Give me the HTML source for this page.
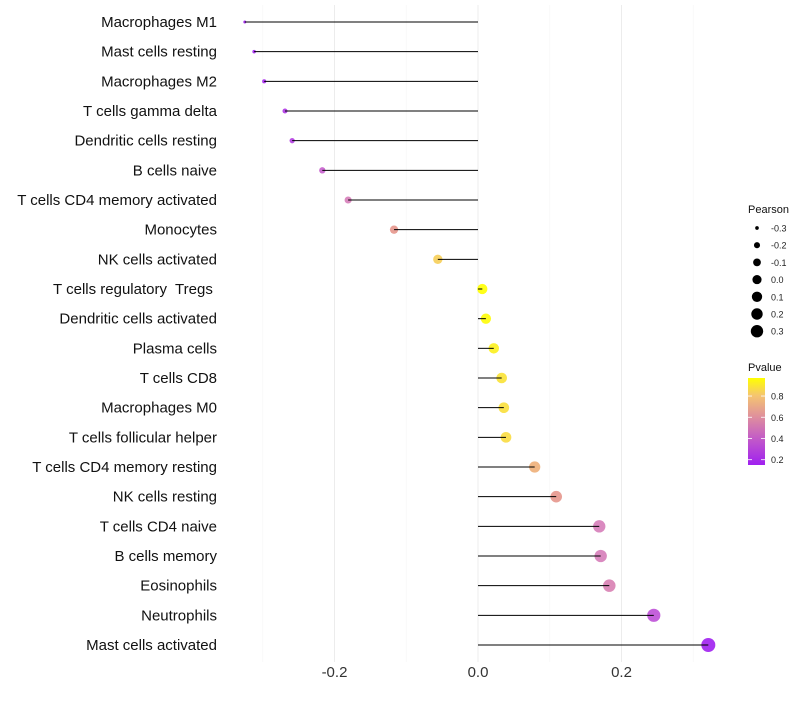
<!DOCTYPE html>
<html><head><meta charset="utf-8"><style>
body{margin:0;background:#fff;font-family:"Liberation Sans",sans-serif}
text{white-space:pre}
</style></head><body>
<svg id="c" width="800" height="700" xmlns="http://www.w3.org/2000/svg">
<defs><linearGradient id="pg" x1="0" y1="1" x2="0" y2="0">
<stop offset="0" stop-color="#A020F0"/><stop offset="0.3" stop-color="#C25AC8"/><stop offset="0.55" stop-color="#DE8E9E"/><stop offset="0.8" stop-color="#F5C570"/><stop offset="1" stop-color="#FFFF00"/></linearGradient></defs>
</svg>
<script>
const categories=["Macrophages M1","Mast cells resting","Macrophages M2","T cells gamma delta","Dendritic cells resting","B cells naive","T cells CD4 memory activated","Monocytes","NK cells activated","T cells regulatory  Tregs ","Dendritic cells activated","Plasma cells","T cells CD8","Macrophages M0","T cells follicular helper","T cells CD4 memory resting","NK cells resting","T cells CD4 naive","B cells memory","Eosinophils","Neutrophils","Mast cells activated"];
const pearson=[-0.325,-0.312,-0.298,-0.269,-0.259,-0.217,-0.181,-0.117,-0.056,0.006,0.011,0.022,0.033,0.036,0.039,0.079,0.109,0.169,0.171,0.183,0.245,0.321];
const pvalue=[0.15,0.16,0.17,0.22,0.24,0.35,0.45,0.6,0.82,0.97,0.96,0.92,0.88,0.87,0.86,0.7,0.6,0.45,0.45,0.47,0.3,0.15];
const xTicks=[-0.2,0.0,0.2];
const sizeTicks=[-0.3,-0.2,-0.1,0.0,0.1,0.2,0.3];
const pTicks=[0.8,0.6,0.4,0.2];
const svg=document.getElementById('c');const NS="http://www.w3.org/2000/svg";
function mk(t,a,p){const e=document.createElementNS(NS,t);for(const k in a)e.setAttribute(k,a[k]);(p||svg).appendChild(e);return e;}
const x=v=>478+v*717.5;
const y=i=>22+i*29.667;
const r=v=>Math.sqrt(Math.max(2.25,2.25+(v+0.325)/0.646*46.75));
const stops=[[0.15,[160,32,240]],[0.3,[190,80,215]],[0.45,[214,125,185]],[0.6,[230,150,140]],[0.8,[245,200,100]],[0.97,[255,255,0]]];
function col(p){if(p<=stops[0][0])return 'rgb('+stops[0][1]+')';for(let k=1;k<stops.length;k++){if(p<=stops[k][0]){const a=stops[k-1],b=stops[k],t=(p-a[0])/(b[0]-a[0]);return 'rgb('+a[1].map((c,j)=>Math.round(c+(b[1][j]-c)*t)).join(',')+')';}}return 'rgb(255,255,0)';}
[-0.3,-0.1,0.1,0.3].forEach(v=>{const g=mk('line',{x1:x(v),x2:x(v),y1:5,y2:662,stroke:'#f6f6f6','stroke-width':0.6});});
xTicks.forEach(v=>{const g=mk('line',{x1:x(v),x2:x(v),y1:5,y2:662,stroke:'#ececec','stroke-width':1});
const t=mk('text',{x:x(v),y:677,'text-anchor':'middle','font-size':15,fill:'#333'});t.textContent=v.toFixed(1);});
categories.forEach((c,i)=>{const yy=y(i);
const t=mk('text',{x:217,y:yy+5,'text-anchor':'end','font-size':15,fill:'#111'});t.textContent=c;
const d=mk('circle',{cx:x(pearson[i]),cy:yy,r:r(pearson[i]),fill:col(pvalue[i]),'fill-opacity':0.9});
const s=mk('line',{x1:x(0),x2:x(pearson[i]),y1:yy,y2:yy,stroke:'#000','stroke-width':1});});
const lt=mk('text',{x:748,y:213,'font-size':11,fill:'#111'});lt.textContent='Pearson';
sizeTicks.forEach((v,k)=>{const yy=228+k*17.2;const c=mk('circle',{cx:757,cy:yy,r:r(v)*0.9,fill:'#000'});
const t=mk('text',{x:771,y:yy+3.5,'font-size':9,fill:'#222'});t.textContent=v.toFixed(1);});
const pt=mk('text',{x:748,y:371,'font-size':11,fill:'#111'});pt.textContent='Pvalue';
const cb=mk('rect',{x:748,y:378,width:17,height:87,fill:'url(#pg)'});
const py=p=>465-(p-0.15)/0.82*87;
pTicks.forEach(p=>{const yy=py(p);mk('line',{x1:748,x2:752,y1:yy,y2:yy,stroke:'#fff','stroke-width':0.8});mk('line',{x1:761,x2:765,y1:yy,y2:yy,stroke:'#fff','stroke-width':0.8});
const t=mk('text',{x:771,y:yy+3.5,'font-size':9,fill:'#222'});t.textContent=p.toFixed(1);});
</script>
</body></html>
